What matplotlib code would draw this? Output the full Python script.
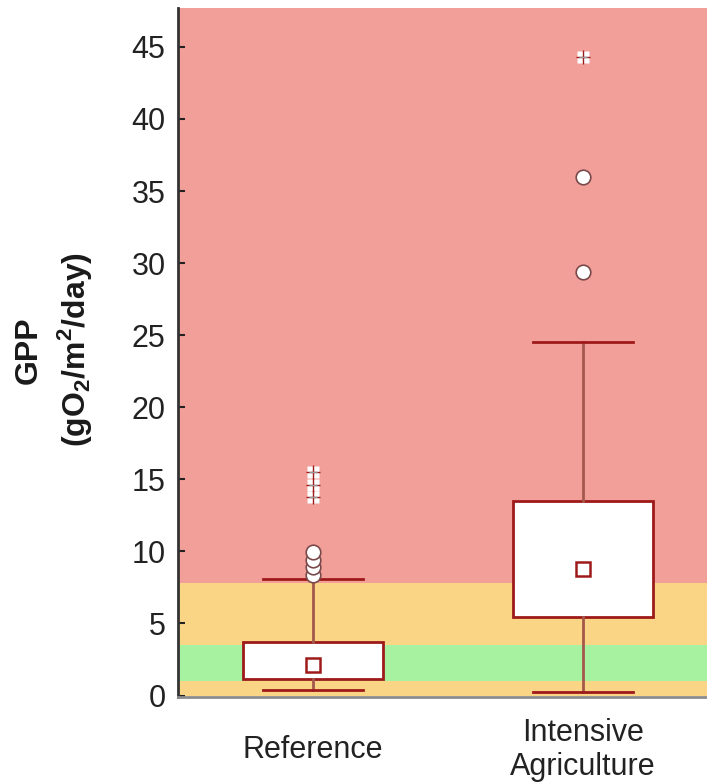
import matplotlib
matplotlib.use('Agg')
import matplotlib.pyplot as plt

plt.rcParams['font.family'] = ['Liberation Sans', 'DejaVu Sans']
plt.rcParams['mathtext.fontset'] = 'custom'
plt.rcParams['mathtext.rm'] = 'Liberation Sans'
plt.rcParams['mathtext.bf'] = 'Liberation Sans:bold'

# GPP summary per site type
groups = ['Reference', 'Intensive\nAgriculture']
q1 = [1.15, 5.45]
q3 = [3.72, 13.5]
means = [2.12, 8.8]
whisk_lo = [0.38, 0.24]
whisk_hi = [8.09, 24.5]
outliers = [[8.37, 8.92, 9.41, 9.97], [29.4, 36.0]]
extremes = [[13.8, 14.6, 15.5], [44.3]]

# status classes (lower, upper, colour)
band_edges = [0, 1.0, 3.5, 7.8, 50]
band_colors = ['#fad585', '#a6f2a0', '#fad585', '#f29e99']

box_red = '#9e1a1a'
whisk_col = '#a4584c'

fig = plt.figure(figsize=(7.07, 7.84), dpi=100)
ax = fig.add_axes([178 / 707, 87 / 784, 540 / 707, 689 / 784])

for lo, hi, c in zip(band_edges[:-1], band_edges[1:], band_colors):
    ax.axhspan(lo, hi, color=c, lw=0, zorder=0)

stats = []
for i in range(len(groups)):
    stats.append(dict(q1=q1[i], q3=q3[i], med=means[i], mean=means[i],
                      whislo=whisk_lo[i], whishi=whisk_hi[i], fliers=[]))

pos = [1, 2]
ax.bxp(stats, positions=pos, widths=0.52, showfliers=False, showmeans=True,
       patch_artist=True,
       boxprops=dict(facecolor='white', edgecolor=box_red, linewidth=2),
       whiskerprops=dict(color=whisk_col, linewidth=2),
       capprops=dict(color=box_red, linewidth=2),
       capwidths=0.37,
       medianprops=dict(linewidth=0),
       meanprops=dict(marker='s', markerfacecolor='white', markeredgecolor=box_red,
                      markeredgewidth=1.8, markersize=9.5),
       zorder=3)

for p, vals in zip(pos, outliers):
    ax.plot([p] * len(vals), vals, 'o', ms=10.5, mfc='white', mec='#7a4a4a',
            mew=1.2, zorder=5)

for p, vals in zip(pos, extremes):
    ax.plot([p] * len(vals), vals, 's', ms=9, mfc='white', mec='none', zorder=5)
    ax.plot([p] * len(vals), vals, '+', ms=10, mec=box_red, mew=1.0, zorder=6)
    ax.plot([p] * len(vals), vals, '_', ms=6, mec='#999999', mew=1.0, zorder=6)

ax.set_xlim(0.5, 2.5)
ax.set_ylim(-0.1, 47.7)
ax.set_yticks(range(0, 50, 5))
ax.set_xticks(pos)
ax.set_xticklabels(groups, va='center', linespacing=1.15)

ax.tick_params(axis='y', direction='in', length=5, width=1.5, pad=9,
               labelsize=22, labelcolor='#222222', color='#222222')
ax.tick_params(axis='x', length=0, pad=38, labelsize=22, labelcolor='#222222')

for s in ['top', 'right']:
    ax.spines[s].set_visible(False)
ax.spines['left'].set_color('#333333')
ax.spines['left'].set_linewidth(2)
ax.spines['bottom'].set_color('#8c8c8c')
ax.spines['bottom'].set_linewidth(2)

fig.text(54 / 707, 1 - 350 / 784, 'GPP\n(gO$_\\mathbf{2}$/m$^\\mathbf{2}$/day)',
         rotation=90, ha='center', va='center', multialignment='center',
         fontsize=23, fontweight='bold', color='#1a1a1a', linespacing=1.35)

fig.savefig('out.png', dpi=100)
